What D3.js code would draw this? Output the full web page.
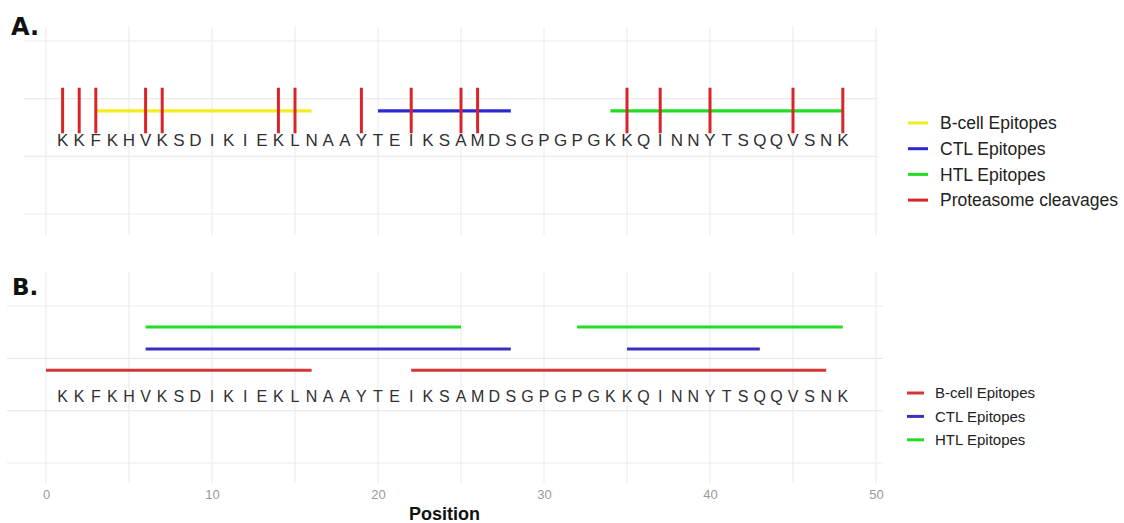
<!DOCTYPE html>
<html>
<head>
<meta charset="utf-8">
<script src="https://cdn.jsdelivr.net/npm/d3@7"></script>
<style>
  html, body { margin: 0; padding: 0; background: #ffffff; }
  svg { display: block; font-family: "Liberation Sans", Arial, Helvetica, sans-serif; }
</style>
</head>
<body>
<svg id="chart" width="1124" height="523"></svg>
<script>
// ---------------- data ----------------
const sequence = "KKFKHVKSDIKIEKLNAAYTEIKSAMDSGPGPGKKQINNYTSQQVSNK".split("");
const xTicks = [0, 10, 20, 30, 40, 50];
const xGrid = [0, 5, 10, 15, 20, 25, 30, 35, 40, 45, 50];

// Panel A
const seriesA = ["B-cell Epitopes", "CTL Epitopes", "HTL Epitopes", "Proteasome cleavages"];
const colorsA = ["#f3ec1e", "#2a28cf", "#22dd22", "#d9242a"];
const epitopeStartA = [3, 20, 34];
const epitopeEndA = [16, 28, 48];
const cleavagePositions = [1, 2, 3, 6, 7, 14, 15, 19, 22, 25, 26, 35, 37, 40, 45, 48];

// Panel B
const seriesB = ["B-cell Epitopes", "CTL Epitopes", "HTL Epitopes"];
const colorsB = ["#d43535", "#3a2fc2", "#22dd22"];
const bcellStartB = [0, 22];
const bcellEndB = [16, 47];
const ctlStartB = [6, 35];
const ctlEndB = [28, 43];
const htlStartB = [6, 32];
const htlEndB = [25, 48];

// ---------------- drawing ----------------
const svg = d3.select("#chart");
const x = d3.scaleLinear().domain([0, 50]).range([46, 876]);
const gridColor = "#ebebeb";

// ----- Panel A -----
const yA = d3.scaleLinear().domain([0, 3]).range([214, 41]);
const gA = svg.append("g");
gA.selectAll("line.hg").data(yA.ticks(3)).join("line")
  .attr("x1", 24).attr("x2", 878)
  .attr("y1", d => yA(d)).attr("y2", d => yA(d))
  .attr("stroke", gridColor).attr("stroke-width", 1.1);
gA.selectAll("line.vg").data(xGrid).join("line")
  .attr("x1", d => x(d)).attr("x2", d => x(d))
  .attr("y1", 27).attr("y2", 235)
  .attr("stroke", gridColor).attr("stroke-width", 1.1);

const levelA = 1.79, cleaveLo = 1.40, cleaveHi = 2.19;
const epiA = epitopeStartA.map((s, i) => ({ s, e: epitopeEndA[i], c: colorsA[i] }));
gA.selectAll("line.epi").data(epiA).join("line")
  .attr("x1", d => x(d.s)).attr("x2", d => x(d.e))
  .attr("y1", yA(levelA)).attr("y2", yA(levelA))
  .attr("stroke", d => d.c).attr("stroke-width", 3.2);
gA.selectAll("line.cl").data(cleavagePositions).join("line")
  .attr("x1", d => x(d)).attr("x2", d => x(d))
  .attr("y1", yA(cleaveHi)).attr("y2", yA(cleaveLo))
  .attr("stroke", colorsA[3]).attr("stroke-width", 3);
gA.selectAll("text.aa").data(sequence).join("text")
  .attr("x", (d, i) => x(i + 1)).attr("y", 146)
  .attr("text-anchor", "middle")
  .attr("font-size", 17).attr("fill", "#303030")
  .text(d => d);

// legend A
const legA = svg.append("g").attr("transform", "translate(908,123)");
seriesA.forEach((name, i) => {
  const yy = i * 25.7;
  legA.append("line").attr("x1", 0).attr("x2", 20).attr("y1", yy).attr("y2", yy)
    .attr("stroke", colorsA[i]).attr("stroke-width", 3);
  legA.append("text").attr("x", 32).attr("y", yy + 6.2)
    .attr("font-size", 17.5).attr("fill", "#222").text(name);
});

svg.append("text").attr("x", 11).attr("y", 35)
  .attr("font-family", "\"DejaVu Sans\", Verdana, sans-serif")
  .attr("font-size", 24).attr("font-weight", "bold").attr("fill", "#111").text("A.");

// ----- Panel B -----
const yB = d3.scaleLinear().domain([0, 3]).range([463, 306]);
const gB = svg.append("g");
gB.selectAll("line.hg").data(yB.ticks(3)).join("line")
  .attr("x1", 7).attr("x2", 883)
  .attr("y1", d => yB(d)).attr("y2", d => yB(d))
  .attr("stroke", gridColor).attr("stroke-width", 1.1);
gB.selectAll("line.vg").data(xGrid).join("line")
  .attr("x1", d => x(d)).attr("x2", d => x(d))
  .attr("y1", 272).attr("y2", 483)
  .attr("stroke", gridColor).attr("stroke-width", 1.1);

const levelsB = [1.77, 2.18, 2.6];
const segsB = [];
bcellStartB.forEach((s, i) => segsB.push({ s, e: bcellEndB[i], k: 0 }));
ctlStartB.forEach((s, i) => segsB.push({ s, e: ctlEndB[i], k: 1 }));
htlStartB.forEach((s, i) => segsB.push({ s, e: htlEndB[i], k: 2 }));
gB.selectAll("line.seg").data(segsB).join("line")
  .attr("x1", d => x(d.s)).attr("x2", d => x(d.e))
  .attr("y1", d => yB(levelsB[d.k])).attr("y2", d => yB(levelsB[d.k]))
  .attr("stroke", d => colorsB[d.k]).attr("stroke-width", 3);
gB.selectAll("text.aa").data(sequence).join("text")
  .attr("x", (d, i) => x(i + 1)).attr("y", 402.3)
  .attr("text-anchor", "middle")
  .attr("font-size", 16).attr("fill", "#303030")
  .text(d => d);

// x axis (panel B)
const axis = svg.append("g").attr("transform", "translate(0,486)")
  .call(d3.axisBottom(x).tickValues(xTicks).tickSize(0).tickPadding(0).tickFormat(d3.format("d")));
axis.select(".domain").remove();
axis.selectAll("text").attr("font-size", 13).attr("fill", "#9a9a9a")
  .attr("font-family", "\"Liberation Sans\", Arial, sans-serif").attr("dy", "0.71em").attr("y", 4);

svg.append("text").attr("x", 444.5).attr("y", 519.5).attr("text-anchor", "middle")
  .attr("font-size", 18).attr("font-weight", "bold").attr("fill", "#111").text("Position");

// legend B
const legB = svg.append("g").attr("transform", "translate(907,393)");
seriesB.forEach((name, i) => {
  const yy = i * 23.4;
  legB.append("line").attr("x1", 0).attr("x2", 17).attr("y1", yy).attr("y2", yy)
    .attr("stroke", colorsB[i]).attr("stroke-width", 3);
  legB.append("text").attr("x", 28).attr("y", yy + 5.4)
    .attr("font-size", 15).attr("fill", "#222").text(name);
});

svg.append("text").attr("x", 12).attr("y", 294.5)
  .attr("font-family", "\"DejaVu Sans\", Verdana, sans-serif")
  .attr("font-size", 23).attr("font-weight", "bold").attr("fill", "#111").text("B.");
</script>
</body>
</html>
